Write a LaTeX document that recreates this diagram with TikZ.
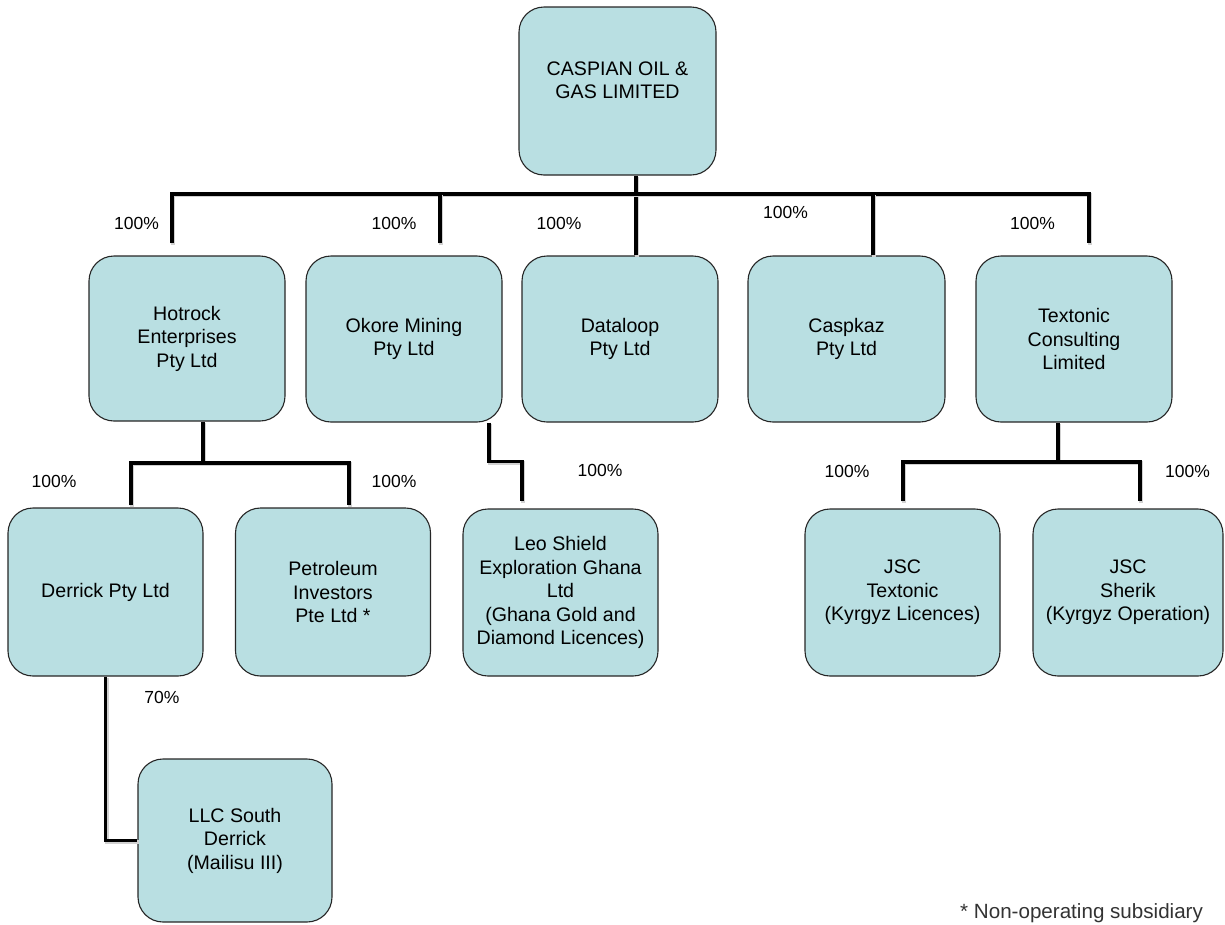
\documentclass[tikz,border=0pt]{standalone}
\usepackage{fontspec}
\setmainfont{Liberation Sans}
\usetikzlibrary{calc}
\definecolor{boxfill}{RGB}{185,223,226}
\begin{document}
\begin{tikzpicture}[x=1pt,y=-1pt,
  orgbox/.style={draw=black!85, line width=1.1pt, fill=boxfill, rounded corners=25pt,
    align=center, inner sep=0pt, minimum width=196pt, minimum height=166pt,
    font=\fontsize{19.6}{23.5}\selectfont},
  boxtext/.style={align=center, inner sep=0pt, font=\fontsize{19.6}{23.5}\selectfont},
  conn/.style={line width=3.6pt, black, line join=miter,
    preaction={draw=black!18, line width=4.2pt, transform canvas={shift={(1.3pt,-1.3pt)}}}},
  pct/.style={font=\fontsize{17.5}{20}\selectfont, anchor=base, inner sep=0pt}]
\useasboundingbox (0,0) rectangle (1225,924);

% boxes
\node[orgbox, minimum width=197pt, minimum height=168pt] (top) at (617.5,91) {};
\node[boxtext] (toptext) at (617.5,80) {CASPIAN OIL \&\\GAS LIMITED};

\node[orgbox, minimum height=165pt] (hot) at (187,338.5) {Hotrock\\Enterprises\\Pty Ltd};
\node[orgbox] (okore) at (404,339) {Okore Mining\\Pty Ltd};
\node[orgbox] (data) at (620,339) {Dataloop\\Pty Ltd};
\node[orgbox, minimum width=197pt] (casp) at (846.5,339) {Caspkaz\\Pty Ltd};
\node[orgbox] (textc) at (1074,339) {Textonic\\Consulting\\Limited};

\node[orgbox, minimum width=195pt, minimum height=168pt] (derrick) at (105.5,592) {Derrick Pty Ltd};
\node[orgbox, minimum width=195pt, minimum height=168pt] (petro) at (333,592) {Petroleum\\Investors\\Pte Ltd *};
\node[orgbox, minimum width=195pt, minimum height=167pt] (leo) at (560.5,592.5) {Leo Shield\\Exploration Ghana\\Ltd\\(Ghana Gold and\\Diamond Licences)};
\node[orgbox, minimum width=195pt, minimum height=167pt] (jsct) at (902.5,592.5) {JSC\\Textonic\\(Kyrgyz Licences)};
\node[orgbox, minimum width=190pt, minimum height=167pt] (jscs) at (1128,592.5) {JSC\\Sherik\\(Kyrgyz Operation)};
\node[orgbox, minimum width=194pt, minimum height=163pt] (llc) at (235,840.5) {LLC South\\Derrick\\(Mailisu III)};

% connectors level 1
\coordinate (bus) at (636,194);
\draw[conn] ($(top.south)+(18.5,0)$) -- (bus) -- ($(data.north)+(16,0)$);
\draw[conn] ($(hot.north)+(-15,-12)$) |- (bus) -| ($(textc.north)+(15,-12)$);
\draw[conn] ($(okore.north)+(36,-12)$) -- ++(0,-50);
\draw[conn] ($(casp.north)+(26.5,0)$) -- ++(0,-62);

% Hotrock subtree
\coordinate (hb) at (203,463);
\draw[conn] ($(hot.south)+(16,0)$) -- (hb);
\draw[conn] ($(derrick.north)+(25.5,-2)$) |- (hb) -| ($(petro.north)+(16,-2)$);

% Okore -> Leo
\draw[conn] ($(okore.south)+(85,0)$) |- ($(leo.north)+(-38.5,-47)$) -- ($(leo.north)+(-38.5,-7)$);

% Textonic subtree
\coordinate (tb) at (1058,462);
\draw[conn] ($(textc.south)+(-16,0)$) -- (tb);
\draw[conn] ($(jsct.north)+(0.5,-7)$) |- (tb) -| ($(jscs.north)+(12,-7)$);

% Derrick -> LLC
\draw[conn] (derrick.south) |- (llc.west);

% redraw boxes' borders over connector ends (boxes stay on top)
% percentages
\node[pct] (p1) at (136.5,229) {100\%};
\node[pct] (p2) at (394,229) {100\%};
\node[pct] (p3) at (559,229) {100\%};
\node[pct] (p4) at (785.5,218) {100\%};
\node[pct] (p5) at (1032.5,229) {100\%};
\node[pct] (p6) at (54,487) {100\%};
\node[pct] (p7) at (394,487) {100\%};
\node[pct] (p8) at (600,476) {100\%};
\node[pct] (p9) at (847,477) {100\%};
\node[pct] (p10) at (1187.5,477) {100\%};
\node[pct] (p11) at (162,703) {70\%};

% footnote
\node[anchor=base west, inner sep=0pt, font=\fontsize{20.6}{24}\selectfont, text=black!80] (note) at (960,918.5) {* Non-operating subsidiary};
\end{tikzpicture}
\end{document}
